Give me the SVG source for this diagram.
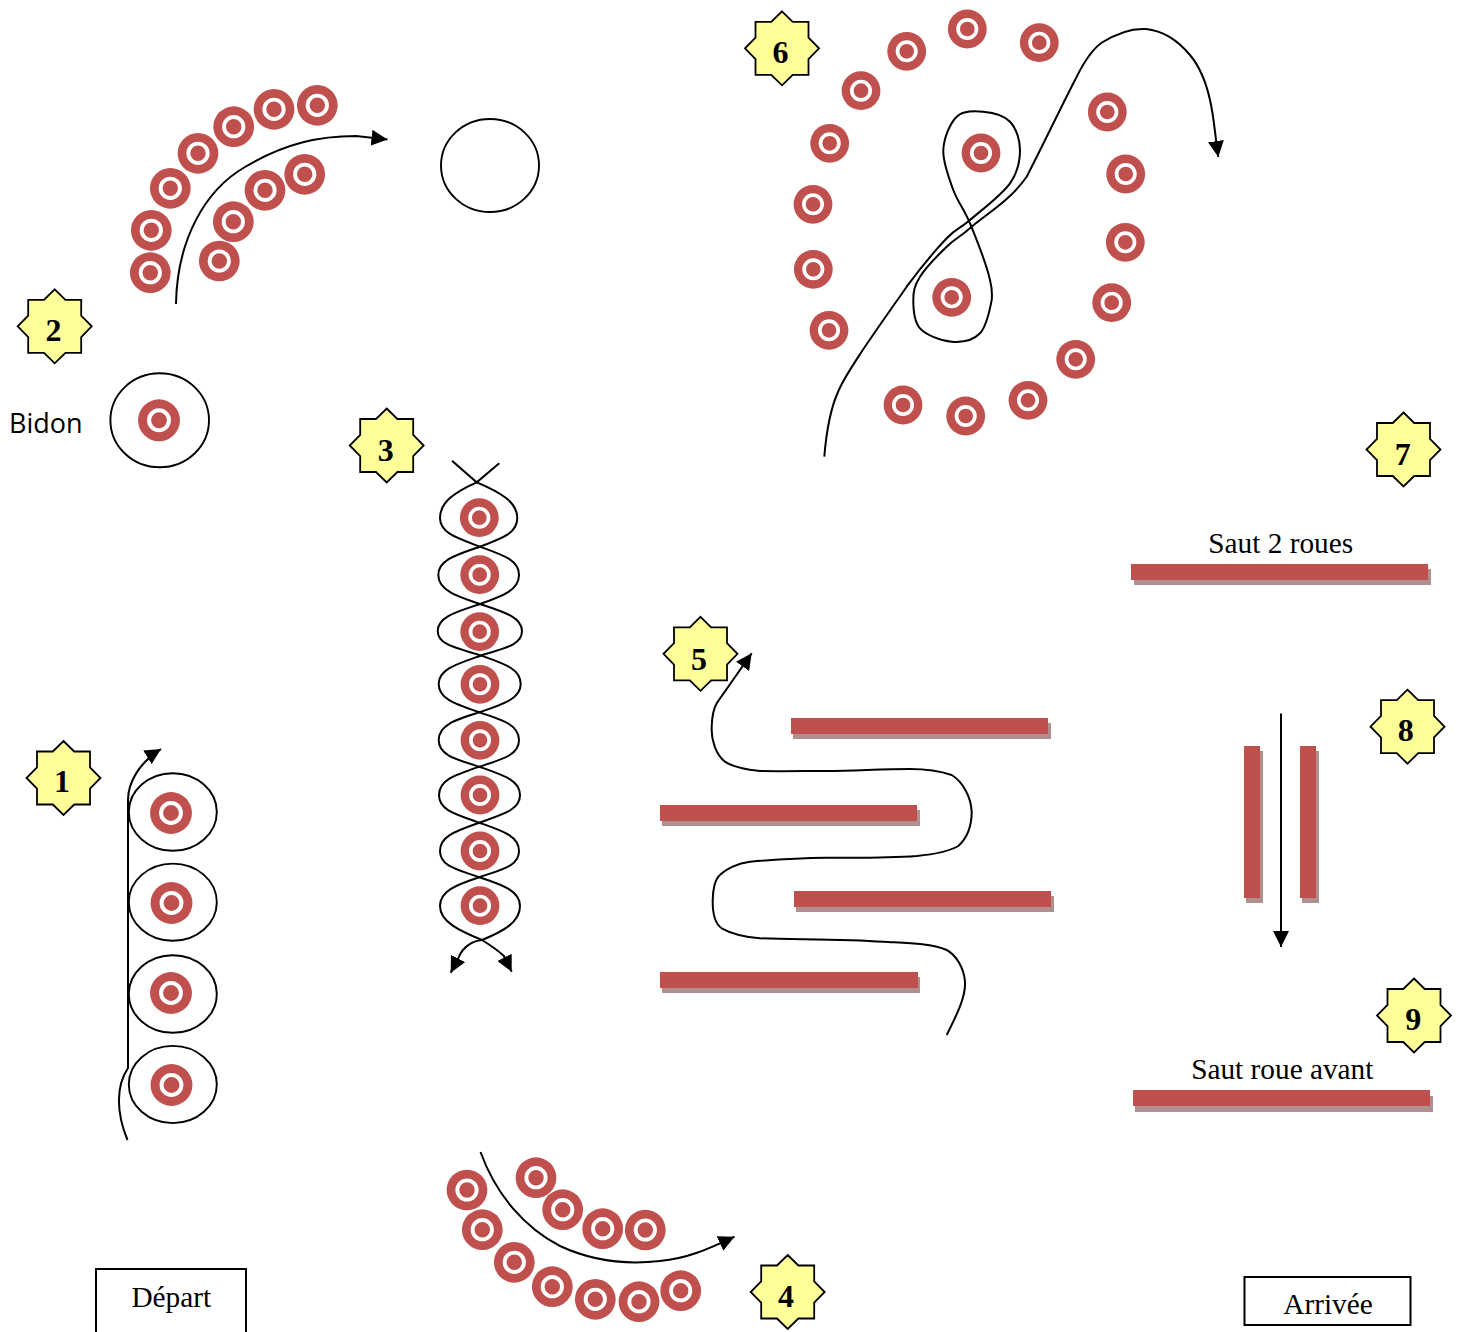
<svg xmlns="http://www.w3.org/2000/svg" width="1462" height="1332" viewBox="0 0 1462 1332">
<style>
.line{fill:none;stroke:#000;stroke-width:2}
.arrow{marker-end:url(#head)}
.outline{fill:none;stroke:#000;stroke-width:1.9}
.bar{fill:#C0504D}
.shadow{fill:#B08F8F}
.star{fill:#FFFF99;stroke:#000;stroke-width:1.8;stroke-linejoin:miter}
.num{font-family:"Liberation Serif",serif;font-weight:bold;font-size:32px;text-anchor:middle;fill:#000}
.label{font-family:"Liberation Serif",serif;font-size:29.3px;text-anchor:middle;fill:#000}
.box{fill:#fff;stroke:#000;stroke-width:2}
.sans{font-family:"Open Sans","Noto Sans",sans-serif;font-size:27px;fill:#000}
</style>
<defs>
<marker id="head" markerUnits="userSpaceOnUse" markerWidth="16" markerHeight="16" viewBox="0 0 16 16" refX="16" refY="8" orient="auto"><path d="M0,0 L16,8 L0,16 Z" fill="#000"/></marker>
<g id="t"><circle r="19.4" fill="#C0504D"/><circle r="9.2" fill="none" stroke="#fff" stroke-width="3.7"/></g>
<polygon id="s" points="0,-37 10.7,-26.5 26.5,-26.5 26.5,-10.7 37,0 26.5,10.7 26.5,26.5 10.7,26.5 0,37 -10.7,26.5 -26.5,26.5 -26.5,10.7 -37,0 -26.5,-10.7 -26.5,-26.5 -10.7,-26.5"/>
</defs>
<g id="ellipses">
<ellipse class="outline" cx="172.8" cy="812" rx="44" ry="38.8"/>
<ellipse class="outline" cx="172.8" cy="902.2" rx="44" ry="38.6"/>
<ellipse class="outline" cx="172.8" cy="994" rx="44" ry="38.8"/>
<ellipse class="outline" cx="172.8" cy="1084.5" rx="44" ry="38.6"/>
<ellipse class="outline" cx="159.7" cy="420.3" rx="49.3" ry="47"/>
<ellipse class="outline" cx="490" cy="165.5" rx="49" ry="46.5"/>
</g>
<g id="targets-1">
<use href="#t" transform="translate(171,813) scale(1.08)"/>
<use href="#t" transform="translate(171.5,903) scale(1.08)"/>
<use href="#t" transform="translate(171,993) scale(1.08)"/>
<use href="#t" transform="translate(171.5,1085) scale(1.08)"/>
</g>
<g id="targets-2">
<use href="#t" transform="translate(150.3,272.7) scale(1.05)"/>
<use href="#t" transform="translate(151.3,230.3) scale(1.05)"/>
<use href="#t" transform="translate(170.3,188.3) scale(1.05)"/>
<use href="#t" transform="translate(198,153.3) scale(1.05)"/>
<use href="#t" transform="translate(233.7,126.7) scale(1.05)"/>
<use href="#t" transform="translate(274,109.3) scale(1.05)"/>
<use href="#t" transform="translate(317.3,105.3) scale(1.05)"/>
<use href="#t" transform="translate(219.3,261) scale(1.05)"/>
<use href="#t" transform="translate(233.3,221.7) scale(1.05)"/>
<use href="#t" transform="translate(265,190.3) scale(1.05)"/>
<use href="#t" transform="translate(304.7,174.3) scale(1.05)"/>
<use href="#t" transform="translate(159,420.3) scale(1.08)"/>
</g>
<g id="targets-3">
<use href="#t" transform="translate(479.3,517.7)"/>
<use href="#t" transform="translate(479.7,574.7)"/>
<use href="#t" transform="translate(479.7,631.7)"/>
<use href="#t" transform="translate(480,684.3)"/>
<use href="#t" transform="translate(480,740.3)"/>
<use href="#t" transform="translate(480,795)"/>
<use href="#t" transform="translate(480,851)"/>
<use href="#t" transform="translate(480,905.7)"/>
</g>
<g id="targets-4">
<use href="#t" transform="translate(467,1190) scale(1.05)"/>
<use href="#t" transform="translate(482.3,1229.7) scale(1.05)"/>
<use href="#t" transform="translate(514.3,1262.3) scale(1.05)"/>
<use href="#t" transform="translate(552.3,1286.7) scale(1.05)"/>
<use href="#t" transform="translate(595.3,1299.3) scale(1.05)"/>
<use href="#t" transform="translate(639,1301.7) scale(1.05)"/>
<use href="#t" transform="translate(680.7,1290.7) scale(1.05)"/>
<use href="#t" transform="translate(536,1177.7) scale(1.05)"/>
<use href="#t" transform="translate(562.7,1209.7) scale(1.05)"/>
<use href="#t" transform="translate(602.7,1228.7) scale(1.05)"/>
<use href="#t" transform="translate(645.3,1230) scale(1.05)"/>
</g>
<g id="targets-6">
<use href="#t" transform="translate(967.3,29)"/>
<use href="#t" transform="translate(1039.3,42.7)"/>
<use href="#t" transform="translate(906.7,51.3)"/>
<use href="#t" transform="translate(861,90.7)"/>
<use href="#t" transform="translate(829.7,143.3)"/>
<use href="#t" transform="translate(813,204.3)"/>
<use href="#t" transform="translate(813.3,269.3)"/>
<use href="#t" transform="translate(829,330.3)"/>
<use href="#t" transform="translate(903,405)"/>
<use href="#t" transform="translate(965.7,416)"/>
<use href="#t" transform="translate(1028,400.3)"/>
<use href="#t" transform="translate(1075.7,359.3)"/>
<use href="#t" transform="translate(1111.7,302.7)"/>
<use href="#t" transform="translate(1125.3,242.3)"/>
<use href="#t" transform="translate(1125.7,174)"/>
<use href="#t" transform="translate(1107.3,112)"/>
<use href="#t" transform="translate(981,153)"/>
<use href="#t" transform="translate(951.7,297.3)"/>
</g>
<g id="bars">
<rect class="shadow" x="793" y="723" width="258" height="16"/><rect class="bar" x="791" y="718" width="257" height="16"/>
<rect class="shadow" x="662" y="810" width="258" height="16"/><rect class="bar" x="660" y="805" width="257" height="16"/>
<rect class="shadow" x="796" y="896" width="258" height="16"/><rect class="bar" x="794" y="891" width="257" height="16"/>
<rect class="shadow" x="662" y="977" width="258" height="16"/><rect class="bar" x="660" y="972" width="258" height="16"/>
<rect class="shadow" x="1134" y="569" width="297" height="16"/><rect class="bar" x="1131" y="564" width="297" height="16"/>
<rect class="shadow" x="1135" y="1096" width="298" height="16"/><rect class="bar" x="1133" y="1090" width="297" height="16"/>
<rect class="shadow" x="1246" y="751" width="17" height="152"/><rect class="bar" x="1244" y="746" width="16" height="152"/>
<rect class="shadow" x="1302" y="751" width="17" height="152"/><rect class="bar" x="1300" y="746" width="16" height="152"/>
</g>
<g id="connectors">
<path class="line arrow" d="M127.5,1140 C116,1112 116,1086 128,1068 L128,800 C128,782 140,762 161,749"/>
<path class="line arrow" d="M176,304 C177,240 205,190 245,167 C285,143 320,136 356,136 L387.5,139.5"/>
<path class="line" marker-end="url(#head)" d="M452,460.7 L476.7,482.3 C500,492 517.3,502 517.3,518 C517.3,533 503,538 480,546.7 C456,555 438.3,560 438.3,575 C438.3,590 456,596 480,604 C504,612 522,617 522,631 C522,645 505,648 481,655.5 C457,664 438.7,669 438.7,684 C438.7,699 455,704 479.3,712.3 C503,720 519,725 519,740 C519,755 503,759 479.3,766.7 C455,775 439,780 439,795 C439,810 455,814 479.3,822.7 C503,831 519,836 519,851 C519,866 503,869 479.3,877.3 C456,885 440,891 440,906 C440,922 460,931 482,940 C490,945 495,948 503.7,955.7 L511.7,971.7"/>
<path class="line" marker-end="url(#head)" d="M499.3,463.3 L476.7,482.3 C455,492 440,502 440,518 C440,533 457,538 480,546.7 C503,555 519,560 519,575 C519,590 503,596 480,604 C456,612 437.7,617 437.7,631 C437.7,645 457,648 481,655.5 C505,664 520.7,669 520.7,684 C520.7,699 503,704 479.3,712.3 C455,720 438.7,725 438.7,740 C438.7,755 455,759 479.3,766.7 C503,775 520,780 520,795 C520,810 503,814 479.3,822.7 C456,831 440,836 440,851 C440,866 456,869 479.3,877.3 C503,885 520,891 520,906 C520,922 504,931 482,940 C472,941 463,947 459,956.7 L450.7,972.7"/>
<path class="line arrow" d="M480.5,1152 C496,1195 525,1228 560,1246 C590,1260 625,1265 660,1261 C690,1258 710,1248 734.5,1236.7"/>
<path class="line arrow" d="M946.7,1035 C955,1018 966,998 965,981.7 C964,968 956,955 946.7,950 C930,943 905,943 883.3,941.7 C845,939 800,939.5 760,938.3 C745,937 730,933 721.7,928.3 C714,923 712.5,912 712.7,900 C713,890 714,882 718.3,876.7 C725,869 738,863 750,861.7 C775,859.5 800,858 826.7,857.7 C857,858 890,858 916.7,856 C932,854.5 948,852 958.3,846 C967,838 971.7,825 971.7,811.7 C971,797 963,782 951.7,775 C940,771 925,769 910,769 C880,769 855,771 826.7,771 C805,771 780,771.5 760,771 C745,769.5 733,767 725,761.7 C716,755 711,740 711.7,726.7 C712,716 714,708 716.7,703.3 L751.7,653.3"/>
<path class="line arrow" d="M824.3,456.7 C826,436 829,412 838,392 C846,372 880,325 906.7,286.7 C923.4,263.9 936.1,249.4 946.7,238.3 C957.3,227.2 959.4,229.2 970,220 C980.6,210.8 1001.7,195 1010,183.3 C1018.3,171.6 1020,160.3 1020,150 C1020,139.7 1016.1,128.1 1010,121.7 C1003.9,115.3 992.2,112.5 983.3,111.7 C974.4,110.9 963.4,110.3 956.7,116.7 C950,123.1 943.9,137.8 943.3,150 C942.7,162.2 948.9,177.8 953.3,190 C957.7,202.2 963.9,208.3 970,223.3 C976.1,238.3 986,262 990,280 C992,288 992.5,292 991.7,300 C990,308.9 986.7,326.3 980,333.3 C973.3,340.3 961.7,342.5 951.7,341.7 C941.7,340.9 926.4,335.3 920,328.3 C913.6,321.3 913.3,308.6 913.3,300 C913.3,291.4 914.4,285.6 920,276.7 C925.6,267.8 938.1,255 946.7,246.7 C955.3,238.4 958.4,238.4 971.7,226.7 C985,215 1009.2,201.7 1026.7,176.7 C1044,143 1062,105 1076.7,76.7 C1086,58 1094,48 1102,42.5 C1114,35 1130,28 1146,29 C1165,31 1180,43 1190,55 C1200,67 1206,82 1210,100 C1214,117 1215,135 1218.3,157"/>
<path class="line arrow" d="M1281,713.5 L1281,947"/>
</g>
<g id="star-1"><use href="#s" class="star" x="63.5" y="778"/><text class="num" x="62" y="792">1</text></g>
<g id="star-2"><use href="#s" class="star" x="54.7" y="326.3"/><text class="num" x="53.5" y="341">2</text></g>
<g id="star-3"><use href="#s" class="star" x="386.7" y="445.5"/><text class="num" x="385.7" y="460.5">3</text></g>
<g id="star-4"><use href="#s" class="star" x="787.7" y="1292"/><text class="num" x="786" y="1307">4</text></g>
<g id="star-5"><use href="#s" class="star" x="700.5" y="653.8"/><text class="num" x="699" y="669.5">5</text></g>
<g id="star-6"><use href="#s" class="star" x="782" y="48.3"/><text class="num" x="780.5" y="62.5">6</text></g>
<g id="star-7"><use href="#s" class="star" x="1403.5" y="449.5"/><text class="num" x="1402.7" y="464.5">7</text></g>
<g id="star-8"><use href="#s" class="star" x="1407.5" y="726.7"/><text class="num" x="1405.7" y="741">8</text></g>
<g id="star-9"><use href="#s" class="star" x="1414" y="1015.5"/><text class="num" x="1413.3" y="1029.5">9</text></g>
<g id="depart"><rect class="box" x="96" y="1269" width="150" height="70"/><text class="label" x="171.3" y="1307">Départ</text></g>
<g id="arrivee"><rect class="box" x="1244.5" y="1277" width="166" height="48"/><text class="label" x="1328" y="1314">Arrivée</text></g>
<g id="label-bidon"><text class="sans" x="9" y="433">Bidon</text></g>
<g id="label-saut2"><text class="label" x="1280.7" y="553">Saut 2 roues</text></g>
<g id="label-sautav"><text class="label" x="1282.3" y="1079">Saut roue avant</text></g>
</svg>
